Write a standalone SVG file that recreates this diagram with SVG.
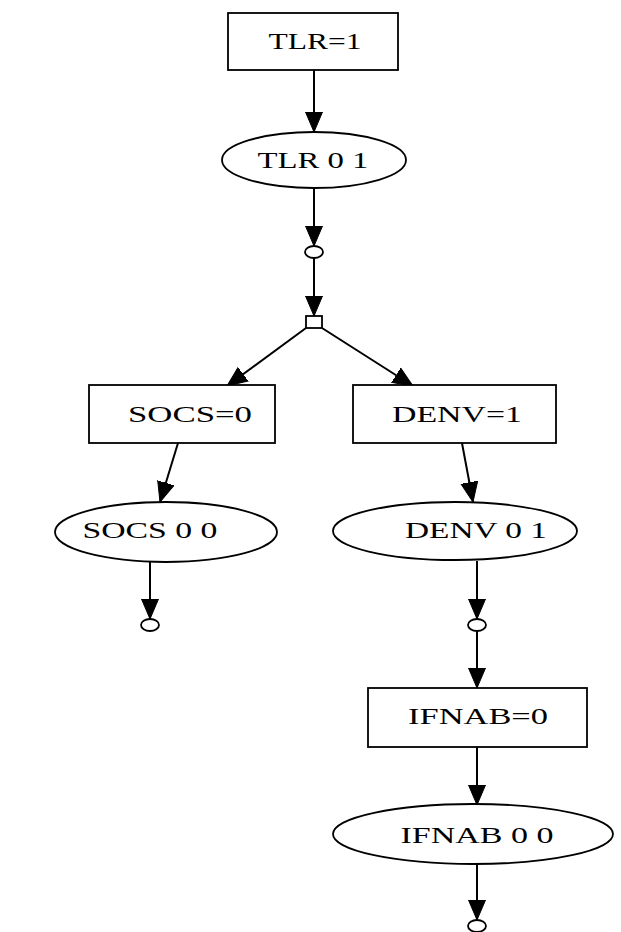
<svg xmlns="http://www.w3.org/2000/svg" width="621" height="932" viewBox="0 0 621 932">
<style>
.n{fill:#fff;stroke:#000;stroke-width:1.8}
.t{font-family:"Liberation Serif","Times New Roman",serif;font-size:23px;fill:#000;text-anchor:middle}
.e{fill:none;stroke:#000;stroke-width:2;marker-end:url(#ah)}
</style>
<defs>
<marker id="ah" markerUnits="userSpaceOnUse" markerWidth="22" markerHeight="20" refX="20" refY="10" orient="auto" viewBox="0 0 22 20">
<path d="M0,1.5 L20,10 L0,18.5 z" fill="#000" stroke="#000" stroke-width="1"/>
</marker>
</defs>
<g id="connectors">
<line class="e" x1="314" y1="70" x2="314" y2="132"/>
<line class="e" x1="314" y1="188" x2="314" y2="246"/>
<line class="e" x1="314" y1="258" x2="314" y2="316"/>
<line class="e" x1="306" y1="328" x2="227" y2="386"/>
<line class="e" x1="322" y1="328" x2="413" y2="386"/>
<line class="e" x1="178" y1="443" x2="160" y2="502"/>
<line class="e" x1="462" y1="443" x2="473" y2="502"/>
<line class="e" x1="150" y1="562" x2="150" y2="619"/>
<line class="e" x1="477" y1="561" x2="477" y2="619"/>
<line class="e" x1="477" y1="631" x2="477" y2="688"/>
<line class="e" x1="477" y1="747" x2="477" y2="805"/>
<line class="e" x1="477" y1="864" x2="477" y2="920"/>
</g>
<g id="TLR1"><rect class="n" x="228" y="13" width="170" height="57"/><text class="t" x="315" y="49" textLength="93" lengthAdjust="spacingAndGlyphs">TLR=1</text></g>
<g id="TLR01"><ellipse class="n" cx="314" cy="160" rx="92" ry="28"/><text class="t" x="313" y="168" textLength="111" lengthAdjust="spacingAndGlyphs">TLR 0 1</text></g>
<g id="c1"><ellipse class="n" cx="314" cy="252" rx="9" ry="6"/></g>
<g id="sq"><rect class="n" x="306" y="316" width="16" height="12"/></g>
<g id="SOCS0"><rect class="n" x="89" y="385" width="186" height="58"/><text class="t" x="190" y="422" textLength="124" lengthAdjust="spacingAndGlyphs">SOCS=0</text></g>
<g id="DENV1"><rect class="n" x="353" y="385" width="203" height="58"/><text class="t" x="457" y="422" textLength="130" lengthAdjust="spacingAndGlyphs">DENV=1</text></g>
<g id="SOCS00"><ellipse class="n" cx="166" cy="532" rx="111" ry="30"/><text class="t" x="150" y="538" textLength="135" lengthAdjust="spacingAndGlyphs">SOCS 0 0</text></g>
<g id="DENV01"><ellipse class="n" cx="455" cy="531" rx="122" ry="29"/><text class="t" x="476" y="538" textLength="142" lengthAdjust="spacingAndGlyphs">DENV 0 1</text></g>
<g id="c2"><ellipse class="n" cx="150" cy="625" rx="9" ry="6"/></g>
<g id="c3"><ellipse class="n" cx="477" cy="625" rx="9" ry="6"/></g>
<g id="IFNAB0"><rect class="n" x="368" y="688" width="219" height="59"/><text class="t" x="478" y="724" textLength="140" lengthAdjust="spacingAndGlyphs">IFNAB=0</text></g>
<g id="IFNAB00"><ellipse class="n" cx="473" cy="834" rx="140" ry="30"/><text class="t" x="477" y="843" textLength="153" lengthAdjust="spacingAndGlyphs">IFNAB 0 0</text></g>
<g id="c4"><ellipse class="n" cx="477" cy="926" rx="9" ry="6"/></g>
</svg>
